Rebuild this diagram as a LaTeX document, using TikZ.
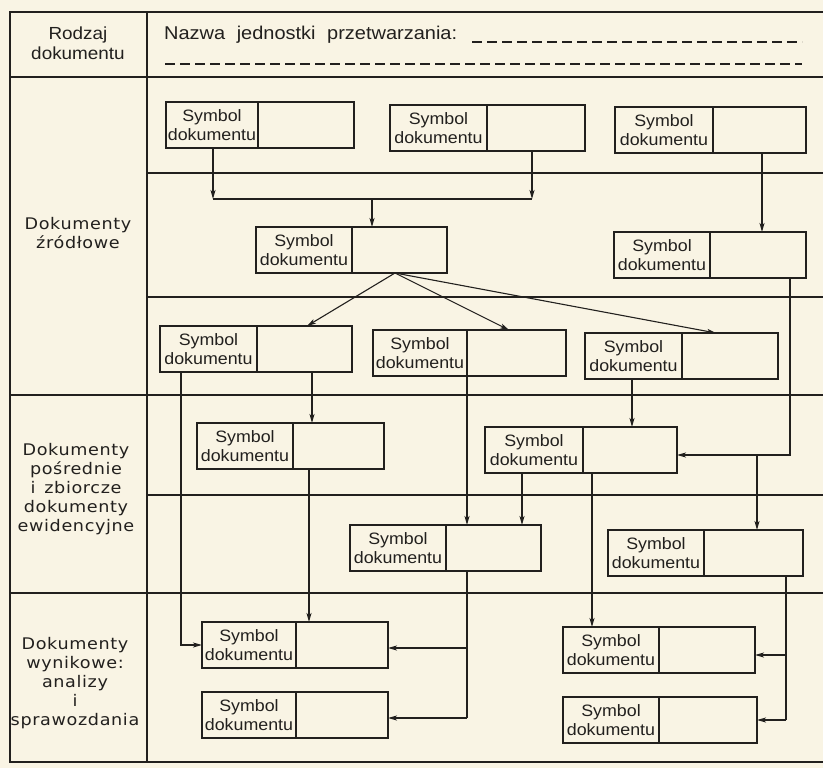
\documentclass[tikz,border=0pt]{standalone}
\usepackage{fontspec}
\setmainfont[FakeStretch=1.08]{Liberation Sans}
\newfontfamily\sidefont[FakeStretch=1.1,LetterSpace=4]{DejaVu Sans}
\usetikzlibrary{arrows.meta,calc}
\definecolor{paper}{RGB}{249,244,228}
\definecolor{ink}{RGB}{34,32,30}

% document box: name, x, y (top left), width, width of the symbol cell
\newcommand\docnode[5]{%
  \node[docbox,minimum width=#4pt] (#1) at (#2,#3) {};
  \draw[cell] ([xshift=#5pt]#1.north west) -- ([xshift=#5pt]#1.south west);
  \node[doctext] (#1-label) at ([xshift=#5pt/2]#1.west) {Symbol\\dokumentu};
}

\begin{document}
\begin{tikzpicture}[x=1pt,y=-1pt,
  grid/.style={draw=ink,line width=1.8pt},
  subgrid/.style={draw=ink,line width=1.4pt},
  docbox/.style={draw=ink,line width=1.9pt,fill=paper,inner sep=0pt,outer sep=0pt,
    anchor=north west,minimum height=46pt},
  cell/.style={draw=ink,line width=1.4pt},
  doctext/.style={font=\fontsize{16.5}{19}\selectfont,align=center,inner sep=0pt,text=ink},
  sidetext/.style={font=\sidefont\fontsize{16}{19}\selectfont,align=center,inner sep=0pt,text=ink},
  headtext/.style={font=\fontsize{18.5}{21}\selectfont,inner sep=0pt,text=ink},
  fillline/.style={draw=ink,line width=1.2pt,dash pattern=on 10pt off 5pt},
  link/.style={draw=ink,line width=1.1pt},
  arr/.style={link,-{Stealth[length=9pt,width=5pt,inset=2.2pt]}},
]
\useasboundingbox (0,0) rectangle (823,768);
\fill[paper] (0,0) rectangle (823,768);

% ---- form grid
\draw[grid] (823,12) -- (10,12) -- (10,762) -- (823,762);
\draw[grid] (147,12) -- (147,762);
\draw[grid] (10,77) -- (823,77);
\draw[grid] (10,395) -- (823,395);
\draw[grid] (10,593) -- (823,593);
\draw[subgrid] (147,173) -- (823,173);
\draw[subgrid] (147,297) -- (823,297);
\draw[subgrid] (147,495) -- (823,495);

% ---- header
\node[headtext,align=center,font=\fontsize{17.5}{20}\selectfont] (kind) at (78,43) {Rodzaj\\dokumentu};
\node[headtext,anchor=west] (unit) at (164,35) {Nazwa\hspace{6pt} jednostki\hspace{6pt} przetwarzania:};
\coordinate (d1a) at (472,42); \coordinate (d1b) at (802,42);
\coordinate (d2a) at (165,64); \coordinate (d2b) at (802,64);
\draw[fillline] (d1a) -- (d1b);
\draw[fillline] (d2a) -- (d2b);

% ---- row labels
\node[sidetext] (src) at (78,233) {Dokumenty\\źródłowe};
\node[sidetext] (mid) at (76,489) {Dokumenty\\pośrednie\\i\, zbiorcze\\dokumenty\\ewidencyjne};
\node[sidetext] (res) at (75,683) {Dokumenty\\wynikowe:\\analizy\\i\\sprawozdania};

% ---- documents
\docnode{b1}{166}{102}{188}{92}
\docnode{b2}{390}{105}{195}{97}
\docnode{b3}{615}{107}{191}{98}
\docnode{b4}{256}{227}{191}{96}
\docnode{b5}{614}{232}{192}{96}
\docnode{b6}{160}{326}{192}{97}
\docnode{b7}{373}{330}{193}{94}
\docnode{b8}{585}{333}{193}{97}
\docnode{b9}{197}{423}{187}{96}
\docnode{b10}{485}{427}{192}{98}
\docnode{b11}{350}{525}{191}{96}
\docnode{b12}{608}{530}{195}{96}
\docnode{b13}{202}{622}{186}{94}
\docnode{b14}{563}{627}{192}{96}
\docnode{b15}{202}{692}{186}{94}
\docnode{b16}{563}{697}{194}{96}

% ---- connectors
% two source documents merged into one
\coordinate (m1) at (213,199);
\coordinate (m2) at (532,199);
\coordinate (m3) at (372,199);
\draw[arr] ([xshift=47pt]b1.south west) -- (m1);
\draw[arr] ([xshift=142pt]b2.south west) -- (m2);
\draw[link] (m1) -- (m2);
\draw[arr] (m3) -- ([xshift=116pt]b4.north west);
\draw[arr] ([xshift=147pt]b3.south west) -- ([xshift=148pt]b5.north west);

% one document copied to three
\coordinate (fan) at ([xshift=139pt]b4.south west);
\draw[arr] (fan) -- ([xshift=147pt]b6.north west);
\draw[arr] (fan) -- ([xshift=136pt]b7.north west);
\draw[arr] (fan) -- ([xshift=131pt]b8.north west);

% right-hand chain
\coordinate (r1) at (790,455);
\coordinate (r2) at (757,455);
\draw[arr] ([xshift=176pt]b5.south west) -- (r1) -- (r1 -| b10.east);
\draw[arr] (r2) -- (r2 |- b12.north);

% left-hand chain
\coordinate (l1) at (181,645);
\draw[arr] ([xshift=21pt]b6.south west) -- (l1) -- (l1 -| b13.west);
\draw[arr] ([xshift=152pt]b6.south west) -- ([xshift=115pt]b9.north west);
\draw[arr] ([xshift=112pt]b9.south west) -- ([xshift=107pt]b13.north west);

% middle
\draw[arr] ([xshift=94pt]b7.south west) -- ([xshift=117pt]b11.north west);
\draw[arr] ([xshift=47pt]b8.south west) -- ([xshift=147pt]b10.north west);
\draw[arr] ([xshift=37pt]b10.south west) -- ([xshift=172pt]b11.north west);
\draw[arr] ([xshift=107pt]b10.south west) -- ([xshift=29pt]b14.north west);

% result documents
\coordinate (c1) at (467,648);
\coordinate (c2) at (467,718);
\draw[link] ([xshift=117pt]b11.south west) -- (c2);
\draw[arr] (c1) -- (c1 -| b13.east);
\draw[arr] (c2) -- (c2 -| b15.east);

\coordinate (e1) at (786,655);
\coordinate (e2) at (786,720);
\draw[link] ([xshift=178pt]b12.south west) -- (e2);
\draw[arr] (e1) -- (e1 -| b14.east);
\draw[arr] (e2) -- (e2 -| b16.east);
\end{tikzpicture}
\end{document}
